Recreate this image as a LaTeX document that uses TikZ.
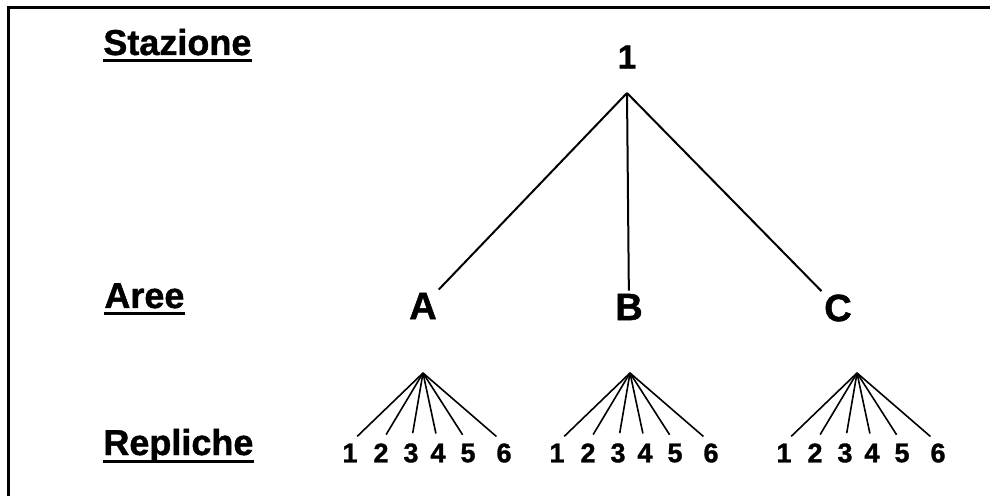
\documentclass[tikz,border=0pt]{standalone}
\usepackage{fontspec}
\setmainfont{Liberation Sans}
\newfontfamily\heavy[FakeBold=1.2]{Liberation Sans Bold}
\usetikzlibrary{calc}
\tikzstyle{level} = [font=\fontsize{18}{20}\selectfont\heavy,
    anchor=base west, inner sep=0pt]
\tikzstyle{area} = [font=\fontsize{19}{22}\selectfont\heavy, inner sep=1.5pt]
\tikzstyle{rep} = [font=\fontsize{13.5}{15}\selectfont\heavy, inner sep=0pt]
\tikzstyle{branch} = [line width=1pt]
\tikzstyle{twig} = [line width=0.8pt, shorten >=5pt]
\tikzstyle{uline} = [line width=1.5pt]

\begin{document}
\begin{tikzpicture}[x=0.5pt, y=-0.5pt]
    \useasboundingbox (0,0) rectangle (990,496);
    \draw[line width=1.5pt] (8,496) -- (8,8) -- (990,8);
    % livelli
    \node[level] (stazione) at (103,55) {Stazione};
    \node[level] (aree) at (104,308) {Aree};
    \node[level] (repliche) at (103,455) {Repliche};
    \foreach \l in {stazione,aree,repliche}
        \draw[uline] ($(\l.base west)+(0,6)$) -- ($(\l.base east)+(0,6)$);
    % stazione e aree
    \node[area, font=\fontsize{16.5}{20}\selectfont\heavy] (top) at (627,57) {1};
    \coordinate (root) at (627,93);
    \node[area] (A) at (423,306) {A};
    \node[area] (B) at (629,307) {B};
    \node[area] (C) at (838,308) {C};
    \foreach \a in {A,B,C}
        \draw[branch] (root) -- (\a);
    % repliche
    \foreach \g/\x in {a/423,b/630,c/857}{
        \coordinate (\g0) at (\x,373);
        \foreach \n/\dx in {1/-73,2/-42,3/-12,4/15,5/45,6/81}{
            \node[rep] (\g\n) at ({\x+(\dx)},453) {\n};
            \draw[twig] (\g0) -- (\g\n.north);
        }
    }
\end{tikzpicture}
\end{document}
